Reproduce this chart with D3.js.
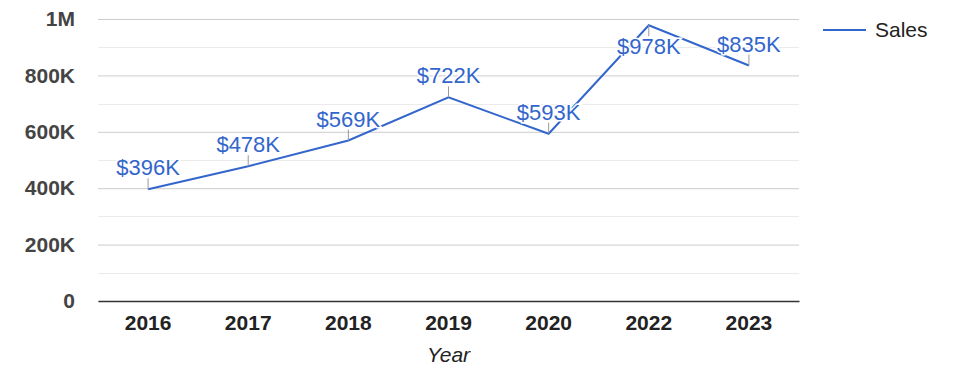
<!DOCTYPE html>
<html lang="en">
<head>
  <meta charset="UTF-8" />
  <title>Sales by year</title>
  <script src="https://d3js.org/d3.v7.min.js"></script>
  <style>
    * { margin: 0; padding: 0; box-sizing: border-box; }
    body { background: #fff; font-family: Arial, "Liberation Sans", sans-serif; }
  </style>
</head>
<body>
  <script>
    // data
    const years = ['2016', '2017', '2018', '2019', '2020', '2022', '2023'];
    const sales = [396000, 478000, 569000, 722000, 593000, 978000, 835000];
    const yTicks = [0, 200000, 400000, 600000, 800000, 1000000];
    const yTickLabels = ['0', '200K', '400K', '600K', '800K', '1M'];

    const [w, h] = [975, 378];
    const margin = { top: 19, right: 176, bottom: 77, left: 98 };
    const lineColor = '#3366cc';
    const font = 'Arial, "Liberation Sans", sans-serif';

    const svg = d3.select('body').append('svg')
      .attr('width', w)
      .attr('height', h);

    const xScale = d3.scaleBand()
      .domain(years)
      .range([margin.left, w - margin.right]);

    const yScale = d3.scaleLinear()
      .domain([0, 1000000])
      .range([h - margin.bottom, margin.top]);

    // minor gridlines
    svg.append('g')
      .selectAll('line')
      .data(d3.range(100000, 1000000, 200000))
      .join('line')
      .attr('x1', margin.left).attr('x2', w - margin.right)
      .attr('y1', d => Math.round(yScale(d)) + 0.5)
      .attr('y2', d => Math.round(yScale(d)) + 0.5)
      .attr('stroke', '#ebebeb');

    // y axis with major gridlines
    const yAxis = d3.axisLeft(yScale)
      .tickValues(yTicks)
      .tickSize(-(w - margin.left - margin.right))
      .tickPadding(23)
      .tickFormat((d, i) => yTickLabels[i]);

    const yg = svg.append('g')
      .attr('transform', `translate(${margin.left},0)`)
      .call(yAxis);
    yg.select('.domain').remove();
    yg.selectAll('.tick line').attr('stroke', '#cccccc');
    yg.selectAll('.tick text')
      .attr('fill', '#444')
      .style('font-size', '21px')
      .style('font-weight', 'bold')
      .style('font-family', font);

    // x axis
    const xAxis = d3.axisBottom(xScale).tickSize(0).tickPadding(14);
    const xg = svg.append('g')
      .attr('transform', `translate(0,${h - margin.bottom})`)
      .call(xAxis);
    xg.select('.domain').attr('stroke', '#333').attr('stroke-width', 1.3);
    xg.selectAll('.tick text')
      .attr('fill', '#222')
      .style('font-size', '21px')
      .style('font-weight', 'bold')
      .style('font-family', font);

    svg.append('text')
      .attr('x', (margin.left + w - margin.right) / 2)
      .attr('y', 362)
      .attr('text-anchor', 'middle')
      .attr('fill', '#222')
      .style('font-size', '21px')
      .style('font-style', 'italic')
      .text('Year');

    const cx = d => xScale(d) + xScale.bandwidth() / 2;

    // line
    const line = d3.line()
      .x((d, i) => cx(years[i]))
      .y(d => yScale(d));

    svg.append('path')
      .datum(sales)
      .attr('d', line)
      .attr('fill', 'none')
      .attr('stroke', lineColor)
      .attr('stroke-width', 2);

    // annotations: stem + label
    const stem = 11;
    const ann = svg.append('g');
    years.forEach((yr, i) => {
      const px = cx(yr);
      const py = yScale(sales[i]);
      const below = py - stem - 20 < margin.top;
      const sy = below ? py + stem : py - stem;
      ann.append('line')
        .attr('x1', px).attr('x2', px)
        .attr('y1', py).attr('y2', sy)
        .attr('stroke', '#999');
      ann.append('text')
        .attr('x', px)
        .attr('y', below ? sy + 18 : sy - 3)
        .attr('text-anchor', 'middle')
        .attr('fill', lineColor)
        .attr('stroke', '#fff')
        .attr('stroke-width', 3)
        .attr('paint-order', 'stroke')
        .style('font-size', '22px')
        .text('$' + Math.round(sales[i] / 1000) + 'K');
    });

    // legend
    const legend = svg.append('g').attr('transform', 'translate(823,30)');
    legend.append('line')
      .attr('x1', 0).attr('x2', 43)
      .attr('stroke', lineColor).attr('stroke-width', 2);
    legend.append('text')
      .attr('x', 52).attr('y', 7)
      .attr('fill', '#222')
      .style('font-size', '21px')
      .text('Sales');
  </script>
</body>
</html>
